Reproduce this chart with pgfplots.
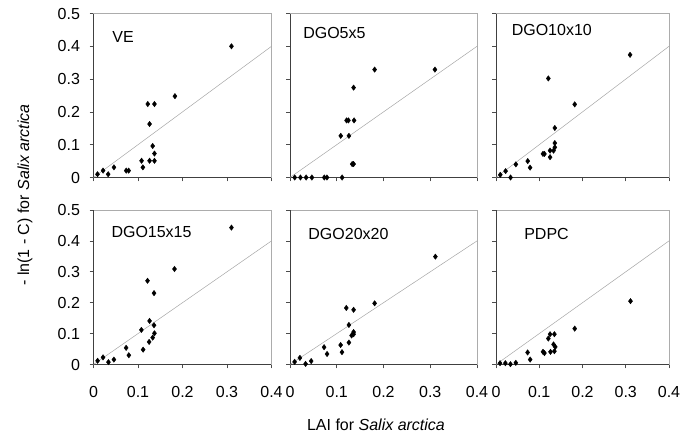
\documentclass[border=0pt]{standalone}
\usepackage{pgfplots}
\pgfplotsset{compat=1.18}
\usepackage{fontspec}
\setmainfont{Liberation Sans}
\pgfplotsset{
  panel/.style={
    scale only axis, anchor=south west,
    xmin=0, xmax=0.4, ymin=0, ymax=0.5,
    xtick={0,0.1,0.2,0.3,0.4}, ytick={0,0.1,0.2,0.3,0.4,0.5},
    tick pos=left, tick align=outside, major tick length=4pt,
    tick style={gray!60!black, line width=0.6pt},
    axis line style={gray!65, line width=0.7pt},
    ticklabel style={font=\fontsize{16}{16}\selectfont},
    xticklabel style={yshift=-14pt},
    yticklabel style={xshift=-6pt},
    /pgf/number format/assume math mode=true,
    clip=false,
  },
  noxlab/.style={xticklabels={}},
  noylab/.style={yticklabels={}},
  pts/.style={only marks, mark=diamond*, mark size=2.7pt, black},
  one/.style={gray!70, line width=0.5pt},
}
\newcommand{\frameLB}{\draw[gray!50!black, line width=0.7pt] (rel axis cs:0,1) -- (rel axis cs:0,0) -- (rel axis cs:1,0);}
\newcommand{\lab}[3]{\node[anchor=west, font=\fontsize{16}{16}\selectfont, inner sep=0pt] at (axis cs:#1,#2) {#3};}
\begin{document}
\begin{tikzpicture}
\useasboundingbox (0pt,0pt) rectangle (688pt,436pt);
% ---------- top row ----------
\begin{axis}[panel, noxlab, at={(93.5pt,258.5pt)}, width=178pt, height=164pt]
\frameLB
\addplot[one] coordinates {(0,0) (0.4,0.4)};
\addplot[pts] coordinates {
(0.009,0.010) (0.0215,0.021) (0.033,0.010) (0.046,0.031) (0.0735,0.021) (0.079,0.021)
(0.108,0.051) (0.111,0.031) (0.122,0.224) (0.126,0.163) (0.126,0.051) (0.137,0.224)
(0.133,0.096) (0.137,0.073) (0.137,0.051) (0.183,0.248) (0.310,0.400)};
\lab{0.042}{0.428}{VE}
\end{axis}
\begin{axis}[panel, noxlab, noylab, at={(290pt,258.5pt)}, width=187pt, height=164pt]
\frameLB
\addplot[one] coordinates {(0,0) (0.4,0.4)};
\addplot[pts] coordinates {
(0.010,0) (0.0223,0) (0.0345,0) (0.0468,0) (0.0734,0) (0.079,0) (0.1115,0)
(0.1086,0.127) (0.126,0.127) (0.121,0.174) (0.125,0.174) (0.137,0.174) (0.136,0.274)
(0.133,0.041) (0.136,0.041) (0.181,0.329) (0.310,0.329)};
\lab{0.028}{0.44}{DGO5x5}
\end{axis}
\begin{axis}[panel, noxlab, noylab, at={(496pt,258.5pt)}, width=173pt, height=164pt]
\frameLB
\addplot[one] coordinates {(0,0) (0.4,0.4)};
\addplot[pts] coordinates {
(0.0099,0.0082) (0.0222,0.0195) (0.0337,0) (0.0459,0.040) (0.0734,0.050) (0.0788,0.030)
(0.1086,0.072) (0.112,0.072) (0.121,0.302) (0.125,0.062) (0.125,0.082) (0.133,0.082)
(0.136,0.092) (0.136,0.105) (0.136,0.151) (0.182,0.223) (0.310,0.374)};
\lab{0.036}{0.449}{DGO10x10}
\end{axis}
% ---------- bottom row ----------
\begin{axis}[panel, at={(93.5pt,71.5pt)}, width=178pt, height=154.5pt]
\frameLB
\addplot[one] coordinates {(0,0) (0.4,0.4)};
\addplot[pts] coordinates {
(0.0092,0.012) (0.0214,0.023) (0.0336,0.0076) (0.0458,0.016) (0.0733,0.054) (0.0794,0.030)
(0.1076,0.112) (0.1115,0.048) (0.1214,0.271) (0.125,0.073) (0.126,0.141) (0.133,0.087)
(0.136,0.231) (0.136,0.127) (0.137,0.101) (0.182,0.309) (0.310,0.443)};
\lab{0.040}{0.43}{DGO15x15}
\end{axis}
\begin{axis}[panel, noylab, at={(290pt,71.5pt)}, width=187pt, height=154.5pt]
\frameLB
\addplot[one] coordinates {(0,0) (0.4,0.4)};
\addplot[pts] coordinates {
(0.0099,0.0086) (0.0212,0.0215) (0.0333,0.002) (0.0453,0.011) (0.0729,0.056) (0.0793,0.034)
(0.1083,0.063) (0.1112,0.040) (0.1204,0.183) (0.126,0.128) (0.126,0.071) (0.1317,0.094)
(0.136,0.177) (0.136,0.105) (0.136,0.098) (0.181,0.198) (0.311,0.349)};
\lab{0.039}{0.423}{DGO20x20}
\end{axis}
\begin{axis}[panel, noylab, at={(496pt,71.5pt)}, width=173pt, height=154.5pt]
\frameLB
\addplot[one] coordinates {(0,0) (0.4,0.4)};
\addplot[pts] coordinates {
(0.0093,0.0043) (0.0217,0.0043) (0.0334,0.001) (0.0458,0.0054) (0.073,0.039) (0.079,0.016)
(0.1087,0.041) (0.112,0.037) (0.121,0.084) (0.125,0.098) (0.126,0.041) (0.135,0.098)
(0.133,0.065) (0.137,0.057) (0.135,0.043) (0.182,0.116) (0.311,0.205)};
\lab{0.065}{0.423}{PDPC}
\end{axis}
% ---------- axis titles ----------
\node[font=\fontsize{16}{16}\selectfont, anchor=center] at (376pt,11pt) {LAI for \textit{Salix arctica}};
\node[font=\fontsize{16}{16}\selectfont, anchor=center, rotate=90] at (25pt,241pt) {- ln(1 - C) for \textit{Salix arctica}};
\end{tikzpicture}
\end{document}
